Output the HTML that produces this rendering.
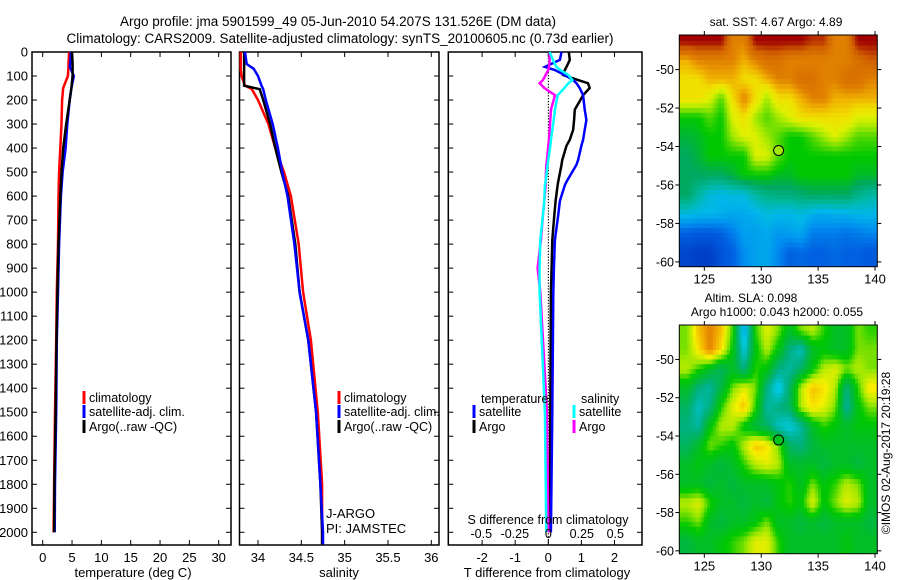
<!DOCTYPE html>
<html><head><meta charset="utf-8"><style>
body{margin:0;background:#fff}
svg{display:block;font-family:"Liberation Sans",sans-serif}
</style></head><body>
<svg id="c" width="900" height="580" viewBox="0 0 900 580" xmlns="http://www.w3.org/2000/svg">
<rect width="900" height="580" fill="#fff"/>
<text x="338" y="26" font-size="13.5" text-anchor="middle">Argo profile: jma 5901599_49 05-Jun-2010 54.207S 131.526E (DM data)</text>
<text x="340" y="43" font-size="13.5" text-anchor="middle">Climatology: CARS2009. Satellite-adjusted climatology: synTS_20100605.nc (0.73d earlier)</text>
<g id="g"></g>
</svg>
<script>
// ---------- data ----------
const depthT = [0,50,60,100,150,200,300,400,500,600,800,1000,1200,1500,1800,2000];
const tempArgo = [5.0,5.1,5.1,5.1,4.9,4.6,4.0,3.5,3.2,3.0,2.7,2.5,2.35,2.2,2.0,1.95];
const tempSat  = [4.8,4.7,4.6,5.3,4.9,4.6,4.2,3.9,3.4,3.1,2.8,2.6,2.4,2.3,2.1,2.05];
const tempClim = [4.5,4.4,4.4,4.3,3.5,3.3,3.2,3.0,2.8,2.7,2.6,2.4,2.3,2.1,1.95,1.85];
const depthS = [0,50,70,100,140,155,200,300,400,500,600,800,1000,1200,1500,1800,2000,2050];
const salArgo = [33.84,33.84,33.84,33.84,33.84,34.02,34.06,34.14,34.20,34.27,34.35,34.43,34.48,34.58,34.67,34.72,34.74,34.74];
const salSat  = [33.85,33.87,33.95,34.0,34.04,34.06,34.09,34.17,34.23,34.28,34.34,34.42,34.48,34.58,34.67,34.72,34.75,34.75];
const salClim = [33.80,33.80,33.80,33.81,33.85,33.93,34.0,34.12,34.20,34.30,34.38,34.47,34.52,34.61,34.69,34.74,34.74,34.74];
const depthD = [0,33,62,75,96,117,130,150,180,240,283,325,365,390,450,470,540,555,620,680,783,900,1000,1500,2000];
const dTSat  = [0.4,0.35,-0.1,0.2,0.5,0.75,0.85,0.95,1.05,1.1,1.15,1.1,1.05,1.0,0.9,0.85,0.55,0.5,0.35,0.3,0.2,0.17,0.15,0.12,0.08];
const dTArgo = [0.62,0.65,0.55,0.5,0.45,0.9,1.2,1.25,1.05,0.8,0.78,0.75,0.65,0.55,0.42,0.4,0.3,0.28,0.22,0.18,0.12,0.1,0.08,0.06,0.05];
const dSSat  = [0.01,0.035,0.06,0.09,0.15,0.18,0.15,0.12,0.07,0.05,0.04,0.03,0.02,0.015,0.0,-0.005,-0.02,-0.025,-0.03,-0.04,-0.06,-0.065,-0.065,-0.025,-0.015];
const dSArgo = [0.01,0.01,0.005,0.0,-0.02,-0.04,-0.065,-0.03,0.05,0.02,0.015,0.01,0.005,0.0,-0.01,-0.015,-0.02,-0.02,-0.03,-0.04,-0.055,-0.08,-0.06,-0.01,0.0];
const tempTicks = [0,5,10,15,20,25,30];
const salTicks = [34,34.5,35,35.5,36];
const tdTicks = [-2,-1,0,1,2];
const sdTicks = [-0.5,-0.25,0,0.25,0.5];
const sdTickLabels = ["-0.5","-0.25","0","0.25","0.5"];
const depthTicks = [0,100,200,300,400,500,600,700,800,900,1000,1100,1200,1300,1400,1500,1600,1700,1800,1900,2000];
const mapLonTicks = [125,130,135,140];
const mapLatTicks = [-50,-52,-54,-56,-58,-60];
const sstGrid = [
[9,9,9,9,7,7,9,9,9,9,9,8.5,8.5,7,7,9,9],
[6.5,7,7,7,7,6.5,7,7.5,7.5,7,7,7,7,7,7,7.5,8],
[6,6,6.5,6.5,6.5,6,6,6.5,7,7,7.5,7.5,7,7,7.5,7.5,7],
[6,6,5.5,4.5,6,7,6,5,6,6,6.5,7,7,6.5,6.5,6.5,6.5],
[4,4,4.5,4,5.5,6,5,4.5,5,5.5,6,6,6,6,6,5.5,5.5],
[3.7,3.8,4,4,5,5.5,5.5,5,4.5,4,4,4.5,5,5.5,5,4.5,4.5],
[3.5,3.7,4,4,4,4,5.5,5.5,4.5,4,4,4,4,4,4,4,4],
[3.5,3.5,3.5,3.5,3.7,4,4,4,3.8,3.8,4,4,4,4,4,3.8,3.8],
[3.5,3,2.6,2.5,2.6,2.6,3,3.2,3.3,3.3,3.4,3.5,3.5,3.5,3.5,3.2,3],
[2.6,2.5,2.5,2.4,2.3,2.3,2.4,2.6,2.5,2.5,2.6,2.4,2.3,2.4,2.4,2.5,2.5],
[1.5,1.4,1.4,1.5,1.8,2.2,2.2,2.3,2.1,2.2,2.3,1.8,1.8,1.8,1.7,1.8,1.9],
[1.1,1,1,1.3,1.5,2,2.2,2.3,1.9,1.5,1.6,1.5,1.5,1.6,1.5,1.5,1.4]];
const slaGrid = [
[0.3,0.7,0.9,0.7,0.2,-0.8,0.2,0.5,0.3,0,0.3,0.4,0.2,0,0,0.3,0.2],
[0.3,0.6,0.9,0.6,0.1,-0.6,0.1,0.4,0.1,-0.3,-0.5,0,0.1,0,0,0.3,0.3],
[0.4,0.2,0,-0.2,0,-0.3,0.2,0.1,-0.3,-0.4,-0.2,0.1,0.4,0.5,0.3,0.4,0.3],
[0,-0.3,-0.4,-0.1,0.3,0.5,0.3,-0.3,-0.7,-0.2,0.4,0.7,0.6,0.4,-0.3,0.2,0.6],
[-0.2,-0.5,-0.3,0.2,0.5,0.7,0.2,-0.4,-0.3,-0.2,0.4,0.6,0.5,0.3,-0.4,0.1,0.3],
[-0.3,-0.4,0.1,0.4,0.4,0.1,-0.1,-0.2,-0.5,-0.6,-0.4,0,0.2,0.1,0,0.1,0.1],
[-0.2,0,0.3,0.2,0.1,0.4,0.7,0.6,0.3,-0.2,-0.3,-0.1,0,0,0,0,0],
[0,0.1,0,-0.1,0,0.2,0.4,0.5,0.4,0,0,0,-0.1,0,0,-0.1,0],
[0,0,-0.1,0,-0.1,0,0,0,0.1,0.2,0,0.3,0.1,0.2,0.4,0.3,0],
[0.4,0.5,0.2,0,0,-0.1,0,-0.1,0.1,0.2,0.1,0.5,0.1,0.3,0.5,0.4,0],
[0.2,0.3,0,-0.1,0,0,0.1,0.3,0,0,-0.1,0,-0.1,0,0,0,-0.1],
[-0.1,0,0,0.1,0.2,0.3,0.5,0.5,0.2,0,0,0,0,0,0.1,0,0]];
const floatLon = 131.526, floatLat = -54.207;
const floatSstIndex = 5.0, floatSlaValue = 0.05;

// ---------- helpers ----------
const NS="http://www.w3.org/2000/svg";
const G=document.getElementById('g');
function mk(tag,attrs,parent){const e=document.createElementNS(NS,tag);for(const k in attrs)e.setAttribute(k,attrs[k]);(parent||G).appendChild(e);return e;}
function txt(x,y,s,size,anchor,parent){const t=mk('text',{x:x,y:y,'font-size':size,'text-anchor':anchor||'middle'},parent);t.textContent=s;return t;}
const PT=52, PB=545;
const yD = d => PT + d*(532.3-PT)/2000;
const xT = v => 42.7 + v*(218.7-42.7)/30;
const xS = v => 258 + (v-34)*(431.3-258)/2;
const xTD = v => 548.3 + v*33.1;
const xSD = v => 548.3 + v*134;

function hexToRgb(h){return [parseInt(h.substr(1,2),16),parseInt(h.substr(3,2),16),parseInt(h.substr(5,2),16)];}
function cmap(stops,v){
  if(v<=stops[0][0])return stops[0][1];
  for(let i=1;i<stops.length;i++){if(v<=stops[i][0]){const a=stops[i-1],b=stops[i];const f=(v-a[0])/(b[0]-a[0]);const c1=hexToRgb(a[1]),c2=hexToRgb(b[1]);return 'rgb('+c1.map((c,j)=>Math.round(c+(c2[j]-c)*f)).join(',')+')';}}
  return stops[stops.length-1][1];
}
const sstStops=[[1,'#0040c8'],[1.5,'#0060e0'],[2,'#0090f0'],[2.5,'#00b8e8'],[3,'#00b8a0'],[3.5,'#00a860'],[4,'#00c800'],[5,'#a0e800'],[5.5,'#e0f000'],[6,'#f0e000'],[6.5,'#f0b000'],[7,'#e08000'],[8,'#d06000'],[9,'#a00000']];
const slaStops=[[-1,'#0060e0'],[-0.6,'#00c8e0'],[-0.3,'#00b080'],[-0.1,'#00b840'],[0.15,'#00c800'],[0.35,'#a0e800'],[0.55,'#f8f000'],[0.8,'#f0a000'],[1,'#d06000']];

function panel(name,x0,x1,xs,ticks,labels,showDepth){
  const g=mk('g',{});
  
  
  const r=mk('rect',{x:x0,y:PT,width:x1-x0,height:PB-PT,fill:'none',stroke:'#000','stroke-width':1.5},g);
  
  
  ticks.forEach((t,i)=>{const x=xs(t);
    mk('line',{x1:x,x2:x,y1:PT,y2:PT+5,stroke:'#000'},g);
    mk('line',{x1:x,x2:x,y1:PB,y2:PB-5,stroke:'#000'},g);
    if(labels){const l=txt(x,562,labels[i],13,'middle',g);
      
      }
  });
  depthTicks.forEach(d=>{const y=yD(d);
    mk('line',{x1:x0,x2:x0+5,y1:y,y2:y,stroke:'#000'},g);
    mk('line',{x1:x1,x2:x1-5,y1:y,y2:y,stroke:'#000'},g);
    if(showDepth){const l=txt(28,y+4.5,String(d),13,'end',g);
      
      }
  });
  return g;
}
function line(g,xs,vals,depths,color,name){
  const pts=vals.map((v,i)=>xs(v).toFixed(1)+','+yD(depths[i]).toFixed(1)).join(' ');
  const p=mk('polyline',{points:pts,fill:'none',stroke:color,'stroke-width':2.5,'stroke-linejoin':'miter'},g);
  
  
}
function legend(g,x,y,color,label,name){
  const m=mk('rect',{x:x-1.5,y:y-11,width:3,height:13,fill:color},g);
  
  
  const t=txt(x+5,y,label,12.5,'start',g);
  
  
}

// Panel 1 temperature
const p1=panel('temperature-panel',32,231,xT,tempTicks,tempTicks.map(String),true);
line(p1,xT,tempClim,depthT,'#f00','temp-climatology-line');
line(p1,xT,tempSat,depthT,'#00f','temp-satellite-line');
line(p1,xT,tempArgo,depthT,'#000','temp-argo-line');
legend(p1,84,402,'#f00','climatology','legend-climatology');
legend(p1,84,416,'#00f','satellite-adj. clim.','legend-satellite');
legend(p1,84,431,'#000','Argo(..raw -QC)','legend-argo');
let t=txt(133,577,'temperature (deg C)',13,'middle',p1);



// Panel 2 salinity
const p2=panel('salinity-panel',239.5,439,xS,salTicks,salTicks.map(String),false);
line(p2,xS,salClim,depthS,'#f00','sal-climatology-line');
line(p2,xS,salArgo,depthS,'#000','sal-argo-line');
line(p2,xS,salSat,depthS,'#00f','sal-satellite-line');
legend(p2,339,402,'#f00','climatology','legend-climatology-sal');
legend(p2,339,416,'#00f','satellite-adj. clim.','legend-satellite-sal');
legend(p2,339,431,'#000','Argo(..raw -QC)','legend-argo-sal');
t=txt(326,518,'J-ARGO',13,'start',p2);


t=txt(326,533,'PI: JAMSTEC',13,'start',p2);


t=txt(339,577,'salinity',13,'middle',p2);



// Panel 3 differences
const p3=panel('difference-panel',448.3,642,xTD,tdTicks,tdTicks.map(String),false);
for(let d=0;d<2050;d+=12){mk('rect',{x:xTD(0)-0.5,y:yD(d),width:1.2,height:1.2,fill:'#000'},p3);}
line(p3,xTD,dTArgo,depthD,'#000','tdiff-argo-line');
line(p3,xTD,dTSat,depthD,'#00f','tdiff-satellite-line');
line(p3,xSD,dSArgo,depthD,'#f0f','sdiff-argo-line');
line(p3,xSD,dSSat,depthD,'#0ff','sdiff-satellite-line');
t=txt(481,403,'temperature',12.5,'start',p3);


t=txt(581,403,'salinity',12.5,'start',p3);


legend(p3,474,416,'#00f','satellite','legend-t-satellite');
legend(p3,474,431,'#000','Argo','legend-t-argo');
legend(p3,574,416,'#0ff','satellite','legend-s-satellite');
legend(p3,574,431,'#f0f','Argo','legend-s-argo');
t=txt(548,524,'S difference from climatology',12.5,'middle',p3);


sdTicks.forEach((v,i)=>{const l=txt(xSD(v),538,sdTickLabels[i],12.5,'middle',p3);
  
  });
t=txt(547,577,'T difference from climatology',13,'middle',p3);



// bilinear sample of grid at fractional (row, col) measured in cell-centre units
function sample(grid,r,c){
  const R=grid.length-1,C=grid[0].length-1;
  r=Math.max(0,Math.min(R,r));c=Math.max(0,Math.min(C,c));
  const r0=Math.floor(r),c0=Math.floor(c),r1=Math.min(R,r0+1),c1=Math.min(C,c0+1);
  const fr=r-r0,fc=c-c0;
  return grid[r0][c0]*(1-fr)*(1-fc)+grid[r0][c1]*(1-fr)*fc+grid[r1][c0]*fr*(1-fc)+grid[r1][c1]*fr*fc;
}

// Maps
function map(name,top,bot,latTop,latBot,grid,stops,title,floatVal){
  const L=679.3,R=877.3,lonL=122.8,lonR=140.2;
  const xL=v=>L+(v-lonL)*(R-L)/(lonR-lonL);
  const yL=v=>top+(latTop-v)*(bot-top)/(latTop-latBot);
  const g=mk('g',{});
  
  
  const cid=name+'-clip';
  const cp=mk('clipPath',{id:cid},g);mk('rect',{x:L,y:top,width:R-L,height:bot-top},cp);
  const cg=mk('g',{'clip-path':'url(#'+cid+')'},g);
  const step=0.25;
  for(let lat=-48;lat>-60.5;lat-=step){
    for(let lon=122.75;lon<140.25;lon+=step){
      const latC=lat-step/2,lonC=lon+step/2;
      const v=sample(grid,(-48.5-latC),(lonC-123.5));
      const x0=xL(lon),x1=xL(lon+step),y0=yL(lat),y1=yL(lat-step);
      const cell=mk('rect',{x:x0.toFixed(2),y:y0.toFixed(2),width:(x1-x0+0.5).toFixed(2),height:(y1-y0+0.5).toFixed(2),fill:cmap(stops,v)},cg);
      
      
    }
  }
  const c=mk('circle',{cx:xL(floatLon),cy:yL(floatLat),r:5,fill:cmap(stops,floatVal),stroke:'#000','stroke-width':1},g);
  
  
  mk('rect',{x:L,y:top,width:R-L,height:bot-top,fill:'none',stroke:'#000','stroke-width':1},g);
  mapLonTicks.forEach(v=>{const x=xL(v);mk('line',{x1:x,x2:x,y1:top,y2:top-4,stroke:'#000'},g);mk('line',{x1:x,x2:x,y1:bot,y2:bot+4,stroke:'#000'},g);
    const l=txt(x,bot+17,String(v),13,'middle',g);
    
    });
  mapLatTicks.forEach(v=>{const y=yL(v);mk('line',{x1:L,x2:L-4,y1:y,y2:y,stroke:'#000'},g);mk('line',{x1:R,x2:R+4,y1:y,y2:y,stroke:'#000'},g);
    const l=txt(674,y+4.5,String(v),12.5,'end',g);
    
    });
  title.forEach((s,i)=>{const l=txt(s[1],s[2],s[0],12,'middle',g);
    
    });
}
map('sst-map',35,266.7,-48.2,-60.25,sstGrid,sstStops,[['sat. SST: 4.67 Argo: 4.89',776,26]],floatSstIndex);
map('sla-map',325,553.7,-48.2,-60.15,slaGrid,slaStops,[['Altim. SLA: 0.098',751,302],['Argo h1000: 0.043 h2000: 0.055',777,316]],floatSlaValue);

t=txt(0,0,'©IMOS 02-Aug-2017 20:19:28',12,'middle');
t.setAttribute('transform','translate(890,453) rotate(-90)');


</script>
</body></html>
